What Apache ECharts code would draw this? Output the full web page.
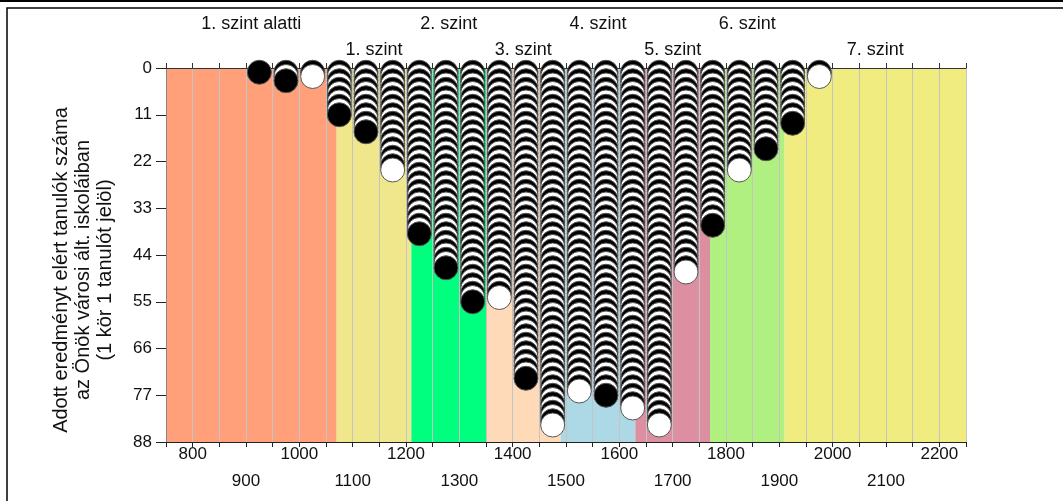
<!DOCTYPE html>
<html>
<head>
<meta charset="utf-8">
<script src="https://cdn.jsdelivr.net/npm/echarts@6/dist/echarts.min.js"></script>
<style>
html,body{margin:0;padding:0;background:#fff;}
#chart{width:1063px;height:501px;}
</style>
</head>
<body>
<div id="chart"></div>
<script>
// ---- data ----
const binCenters = [925, 975, 1025, 1075, 1125, 1175, 1225, 1275, 1325, 1375, 1425,
                    1475, 1525, 1575, 1625, 1675, 1725, 1775, 1825, 1875, 1925, 1975];
const studentCounts = [1, 3, 2, 11, 15, 24, 39, 47, 55, 54, 73,
                       84, 76, 77, 80, 84, 48, 37, 24, 19, 13, 2];
const levelEdges = [750, 1070, 1210, 1350, 1490, 1630, 1770, 1910, 2250];
const levelNames = ['1. szint alatti', '1. szint', '2. szint', '3. szint',
                    '4. szint', '5. szint', '6. szint', '7. szint'];
const levelColors = ['#FFA07A', '#F0E68C', '#00FF7F', '#FFDAB9',
                     '#ADD8E6', '#DB8FA0', '#B0F080', '#F0EC80'];
const yTicks = [0, 11, 22, 33, 44, 55, 66, 77, 88];
const xMin = 750, xMax = 2250, xStep = 50;
const yName = 'Adott eredményt elért tanulók száma\naz Önök városi ált. iskoláiban\n(1 kör 1 tanulót jelöl)';

// ---- build ----
const FONT = '"Liberation Sans", Arial, sans-serif';
const circles = [];
binCenters.forEach((x, j) => {
  for (let i = 1; i <= studentCounts[j]; i++) circles.push([x, i]);
});
const areas = levelNames.map((name, k) => [
  { name: name, xAxis: levelEdges[k], itemStyle: { color: levelColors[k], opacity: 1 },
    label: { show: true, position: 'top', distance: (k % 2 === 0) ? 35 : 9,
             fontSize: 18, color: '#111', fontFamily: FONT } },
  { xAxis: levelEdges[k + 1] }
]);

const chart = echarts.init(document.getElementById('chart'), null, { renderer: 'canvas' });
chart.setOption({
  animation: false,
  backgroundColor: '#fff',
  grid: { left: 166, right: 97, top: 68, bottom: 59 },
  xAxis: [
    { type: 'value', min: xMin, max: xMax, interval: xStep, position: 'bottom', z: 2,
      axisLine: { show: true, onZero: false, lineStyle: { color: '#222', width: 1 } },
      axisTick: { show: true, length: 5, lineStyle: { color: '#222' } },
      axisLabel: { formatter: v => (v % 200 === 0) ? String(v) : '', fontSize: 17, color: '#111',
                   margin: 4, fontFamily: FONT },
      splitLine: { show: true, lineStyle: { color: '#c4c4c4', width: 1 } } },
    { type: 'value', min: xMin, max: xMax, interval: xStep, position: 'bottom', z: 2,
      axisLine: { show: false }, axisTick: { show: false }, splitLine: { show: false },
      axisLabel: { formatter: v => (v % 200 === 100) ? String(v) : '', fontSize: 17, color: '#111',
                   margin: 31, fontFamily: FONT } },
    { type: 'value', min: xMin, max: xMax, interval: xStep, position: 'top', z: 2,
      axisLine: { show: true, onZero: false, lineStyle: { color: '#333', width: 1 } },
      axisTick: { show: true, length: 5, lineStyle: { color: '#333' } },
      axisLabel: { show: false }, splitLine: { show: false } }
  ],
  yAxis: {
    type: 'value', inverse: true, min: yTicks[0], max: yTicks[yTicks.length - 1],
    interval: yTicks[1] - yTicks[0], z: 2,
    axisLine: { show: true, lineStyle: { color: '#888', width: 1 } },
    axisTick: { show: true, length: 10, lineStyle: { color: '#222' } },
    axisLabel: { fontSize: 17, color: '#111', margin: 14, fontFamily: FONT },
    splitLine: { show: false },
    name: yName, nameLocation: 'middle', nameGap: 50,
    nameTextStyle: { fontSize: 20, color: '#111', lineHeight: 22, fontFamily: FONT, align: 'center',
                     padding: [0, 30, 0, 0] }
  },
  series: [
    { type: 'line', data: [], z: 0, silent: true,
      markArea: { silent: true, z: 0, data: areas } },
    { type: 'scatter', data: circles, z: 4, symbol: 'circle', symbolSize: 24, clip: false,
      silent: true,
      itemStyle: { color: p => (p.data[1] % 2 === 1) ? '#000' : '#fff',
                   borderColor: '#555', borderWidth: 1, opacity: 1 } }
  ],
  graphic: [
    { type: 'line', shape: { x1: 0, y1: 1, x2: 1063, y2: 1 }, style: { stroke: '#000', lineWidth: 2 } },
    { type: 'rect', shape: { x: 7, y: 8, width: 1200, height: 700 },
      style: { fill: null, stroke: '#000', lineWidth: 1.5 } }
  ]
});
</script>
</body>
</html>
